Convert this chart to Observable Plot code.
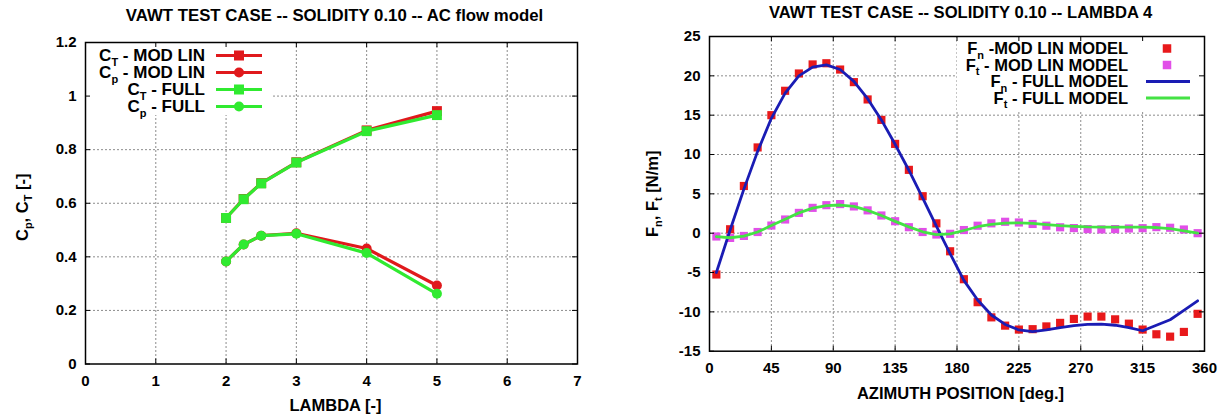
<!DOCTYPE html>
<html><head><meta charset="utf-8">
<script src="https://cdn.jsdelivr.net/npm/d3@7"></script>
<script src="https://cdn.jsdelivr.net/npm/@observablehq/plot@0.6"></script>
<style>
body{margin:0;background:#fff;}
#wrap{position:relative;width:1231px;height:418px;overflow:hidden;background:#fff;}
#left{position:absolute;left:0;top:0;}
#right{position:absolute;left:615px;top:0;}
</style></head><body>
<div id="wrap"><div id="left"></div><div id="right"></div></div>
<script>
// ---------- LEFT CHART DATA ----------
const leftTitle = "VAWT TEST CASE -- SOLIDITY 0.10 -- AC flow model";
const leftXLabel = "LAMBDA [-]";
const leftYLabel = "C_p, C_T [-]";
const lambdaTicks = [0, 1, 2, 3, 4, 5, 6, 7];
const cTicks = [0, 0.2, 0.4, 0.6, 0.8, 1, 1.2];
const lambda = [2, 2.25, 2.5, 3, 4, 5];
const ctModLin = [0.545, 0.616, 0.675, 0.753, 0.872, 0.944];
const cpModLin = [0.383, 0.446, 0.479, 0.488, 0.431, 0.293];
const ctFull = [0.545, 0.615, 0.674, 0.752, 0.869, 0.929];
const cpFull = [0.383, 0.446, 0.479, 0.486, 0.414, 0.262];
const leftLegend = ["C_T - MOD LIN", "C_p - MOD LIN", "C_T - FULL", "C_p - FULL"];

// ---------- RIGHT CHART DATA ----------
const rightTitle = "VAWT TEST CASE -- SOLIDITY 0.10 -- LAMBDA 4";
const rightXLabel = "AZIMUTH POSITION [deg.]";
const rightYLabel = "F_n, F_t [N/m]";
const azTicks = [0, 45, 90, 135, 180, 225, 270, 315, 360];
const fTicks = [-15, -10, -5, 0, 5, 10, 15, 20, 25];
const azimuth = [5, 15, 25, 35, 45, 55, 65, 75, 85, 95, 105, 115, 125, 135, 145, 155, 165, 175,
  185, 195, 205, 215, 225, 235, 245, 255, 265, 275, 285, 295, 305, 315, 325, 335, 345, 355];
const fnModLin = [-5.25, 0.5, 6.0, 10.9, 15.0, 18.1, 20.3, 21.45, 21.6, 20.8, 19.2, 17.0, 14.4, 11.35, 8.05, 4.7, 1.25, -2.3,
  -5.85, -8.77, -10.7, -11.75, -12.25, -12.2, -11.85, -11.4, -10.9, -10.6, -10.6, -10.95, -11.5, -12.25, -12.85, -13.15, -12.55, -10.25];
const ftModLin = [-0.42, -0.6, -0.35, 0.15, 0.97, 1.74, 2.58, 3.22, 3.56, 3.7, 3.4, 2.9, 2.25, 1.52, 0.76, 0.15, -0.17, -0.08,
  0.4, 0.95, 1.25, 1.45, 1.36, 1.17, 0.95, 0.75, 0.65, 0.52, 0.48, 0.52, 0.6, 0.64, 0.77, 0.69, 0.47, 0.0];
const fnFull = [-5.0, 0.4, 5.6, 10.4, 14.6, 17.8, 20.0, 21.1, 21.4, 20.8, 19.3, 17.1, 14.4, 11.3, 8.0, 4.5, 0.9, -2.6,
  -6.0, -8.5, -10.4, -11.6, -12.3, -12.5, -12.3, -12.0, -11.75, -11.6, -11.55, -11.7, -12.0, -12.4, -11.7, -11.0, -9.8, -8.6];
const ftFull = [-0.45, -0.58, -0.38, 0.15, 0.98, 1.78, 2.58, 3.18, 3.5, 3.58, 3.4, 2.9, 2.25, 1.5, 0.8, 0.18, -0.17, -0.1,
  0.34, 0.82, 1.12, 1.28, 1.32, 1.25, 1.1, 0.95, 0.86, 0.8, 0.78, 0.76, 0.76, 0.76, 0.72, 0.58, 0.3, 0.0];
const rightLegend = ["F_n -MOD LIN MODEL", "F_t - MOD LIN MODEL", "F_n - FULL MODEL", "F_t - FULL MODEL"];

// ---------- STYLES ----------
const FONT = "'Liberation Sans', Arial, Helvetica, sans-serif";
const RED = "#e0191c", GREEN = "#30ea30";
const RED2 = "#e8191b", MAGENTA = "#e14fe8", BLUE = "#1a1cb4", GREEN2 = "#44e244";
const GRID = {stroke: "#8c8c8c", strokeDasharray: "2,2", strokeWidth: 1};

const table = (xs, ys) => xs.map((x, i) => ({x, y: ys[i]}));
const fmt = d => String(d);

function subscripts(root) {
  d3.select(root).selectAll("text").each(function () {
    if (this.querySelector("tspan")) return;
    const s = this.textContent;
    if (!s.includes("_")) return;
    const parts = s.split(/_(.)/);
    const el = d3.select(this);
    el.text(null);
    let shifted = false;
    parts.forEach((p, i) => {
      if (!p) return;
      const ts = el.append("tspan").text(p);
      if (i % 2 === 1) { ts.attr("dy", 4.5).style("font-size", "11px"); shifted = true; }
      else if (shifted) { ts.attr("dy", -4.5); shifted = false; }
    });
  });
}

function addLegend(svg, cfg) {
  const g = d3.create("svg:g").attr("class", "legend");
  g.append("rect").attr("x", cfg.bx).attr("y", cfg.by).attr("width", cfg.bw).attr("height", cfg.bh).attr("fill", "#fff");
  cfg.items.forEach((it, i) => {
    const cy = cfg.y0 + i * cfg.dy;
    g.append("text").attr("x", cfg.tx).attr("y", cy + cfg.fs * 0.35).attr("text-anchor", "end")
      .attr("fill", "black").style("font-size", cfg.fs + "px").style("font-weight", "bold")
      .style("font-family", FONT).text(it.label);
    if (it.line) g.append("line").attr("x1", cfg.lx1).attr("x2", cfg.lx2).attr("y1", cy).attr("y2", cy)
      .attr("stroke", it.color).attr("stroke-width", it.lw);
    if (it.marker === "square") g.append("rect").attr("x", cfg.mx - it.ms / 2).attr("y", cy - it.ms / 2)
      .attr("width", it.ms).attr("height", it.ms).attr("fill", it.color);
    if (it.marker === "circle") g.append("circle").attr("cx", cfg.mx).attr("cy", cy).attr("r", it.ms / 2).attr("fill", it.color);
  });
  // opaque legend just above the grid lines (below data, frame and ticks)
  const rules = svg.querySelectorAll('g[aria-label="rule"]');
  if (rules.length) rules[rules.length - 1].after(g.node());
  else svg.append(g.node());
  subscripts(g.node());
}

const label = (txt, opts) => Plot.text([txt], {text: d => d, lineAnchor: "middle", textAnchor: "middle", fontWeight: "bold", ...opts});

// ---------- LEFT PLOT ----------
const LW = 615, LH = 418, LML = 85, LMR = 38, LMT = 42, LMB = 54.5;
const LPW = LW - LML - LMR, LPH = LH - LMT - LMB;
const leftSeries = [
  {data: table(lambda, ctModLin), color: RED, symbol: "square", r: 5.6},
  {data: table(lambda, cpModLin), color: RED, symbol: "circle", r: 5},
  {data: table(lambda, ctFull), color: GREEN, symbol: "square", r: 5.6},
  {data: table(lambda, cpFull), color: GREEN, symbol: "circle", r: 5}
];
const leftPlot = Plot.plot({
  width: LW, height: LH, marginLeft: LML, marginRight: LMR, marginTop: LMT, marginBottom: LMB,
  x: {domain: [0, 7]}, y: {domain: [0, 1.2]},
  style: {fontFamily: FONT, fontSize: "15px", fontWeight: "bold", color: "black", background: "#fff", overflow: "visible"},
  marks: [
    Plot.ruleX(lambdaTicks.slice(1, -1), GRID),
    Plot.ruleY(cTicks.slice(1, -1), GRID),
    ...leftSeries.flatMap(s => [
      Plot.line(s.data, {x: "x", y: "y", stroke: s.color, strokeWidth: 3.2}),
      Plot.dot(s.data, {x: "x", y: "y", fill: s.color, symbol: s.symbol, r: s.r})
    ]),
    Plot.frame({stroke: "black", strokeWidth: 1.5}),
    Plot.tickY(cTicks, {y: d => d, insetRight: LPW - 5}),
    Plot.tickY(cTicks, {y: d => d, insetLeft: LPW - 5}),
    Plot.tickX(lambdaTicks, {x: d => d, insetTop: LPH - 5}),
    Plot.tickX(lambdaTicks, {x: d => d, insetBottom: LPH - 5}),
    Plot.axisX(lambdaTicks, {tickSize: 0, tickPadding: 11, tickFormat: fmt, label: null, fontSize: 15}),
    Plot.axisY(cTicks, {tickSize: 0, tickPadding: 9, tickFormat: fmt, label: null, fontSize: 15}),
    label(leftTitle, {frameAnchor: "top", dy: -26.5, dx: 3, fontSize: 16.8}),
    label(leftXLabel, {frameAnchor: "bottom", dy: 41.5, dx: 4, fontSize: 16.5}),
    label(leftYLabel, {frameAnchor: "left", dx: -63, dy: 4, rotate: -90, fontSize: 16.5})
  ]
});
document.getElementById("left").append(leftPlot);
subscripts(leftPlot);
addLegend(leftPlot, {
  bx: 86, by: 43, bw: 185, bh: 72, tx: 205, lx1: 216, lx2: 262, mx: 239, y0: 55.5, dy: 17, fs: 17,
  items: leftLegend.map((label, i) => ({label, line: true, lw: 3.2, color: leftSeries[i].color,
    marker: leftSeries[i].symbol, ms: 10}))
});

// ---------- RIGHT PLOT ----------
const RW = 616, RH = 418, RML = 94, RMR = 27, RMT = 36, RMB = 67.3;
const RPW = RW - RML - RMR, RPH = RH - RMT - RMB;
const rightPlot = Plot.plot({
  width: RW, height: RH, marginLeft: RML, marginRight: RMR, marginTop: RMT, marginBottom: RMB,
  x: {domain: [0, 360]}, y: {domain: [-15, 25]},
  style: {fontFamily: FONT, fontSize: "15px", fontWeight: "bold", color: "black", background: "#fff", overflow: "visible"},
  marks: [
    Plot.ruleX(azTicks.slice(1, -1), GRID),
    Plot.ruleY(fTicks.slice(1, -1), GRID),
    Plot.dot(table(azimuth, fnModLin), {x: "x", y: "y", fill: RED2, symbol: "square", r: 4.6}),
    Plot.dot(table(azimuth, ftModLin), {x: "x", y: "y", fill: MAGENTA, symbol: "square", r: 4.6}),
    Plot.line(table(azimuth, fnFull), {x: "x", y: "y", stroke: BLUE, strokeWidth: 2.8}),
    Plot.line(table(azimuth, ftFull), {x: "x", y: "y", stroke: GREEN2, strokeWidth: 2.8}),
    Plot.frame({stroke: "black", strokeWidth: 1.5}),
    Plot.tickY(fTicks, {y: d => d, insetRight: RPW - 5}),
    Plot.tickY(fTicks, {y: d => d, insetLeft: RPW - 5}),
    Plot.tickX(azTicks, {x: d => d, insetTop: RPH - 5}),
    Plot.tickX(azTicks, {x: d => d, insetBottom: RPH - 5}),
    Plot.axisX(azTicks, {tickSize: 0, tickPadding: 11, tickFormat: fmt, label: null, fontSize: 15}),
    Plot.axisY(fTicks, {tickSize: 0, tickPadding: 9, tickFormat: fmt, label: null, fontSize: 15}),
    label(rightTitle, {frameAnchor: "top", dy: -23.5, dx: 3.5, fontSize: 16.6}),
    label(rightXLabel, {frameAnchor: "bottom", dy: 42.6, dx: 3.5, fontSize: 16.5}),
    label(rightYLabel, {frameAnchor: "left", dx: -57, dy: 0, rotate: -90, fontSize: 16.5})
  ]
});
document.getElementById("right").append(rightPlot);
subscripts(rightPlot);
const rightStyles = [
  {line: false, marker: "square", color: RED2, ms: 8.5},
  {line: false, marker: "square", color: MAGENTA, ms: 8.5},
  {line: true, marker: null, color: BLUE, lw: 2.8},
  {line: true, marker: null, color: GREEN2, lw: 2.8}
];
addLegend(rightPlot, {
  bx: 342, by: 37, bw: 246, bh: 73, tx: 513, lx1: 531, lx2: 575, mx: 552, y0: 48.5, dy: 16.5, fs: 16.5,
  items: rightLegend.map((label, i) => ({label, ...rightStyles[i]}))
});
</script></body></html>
